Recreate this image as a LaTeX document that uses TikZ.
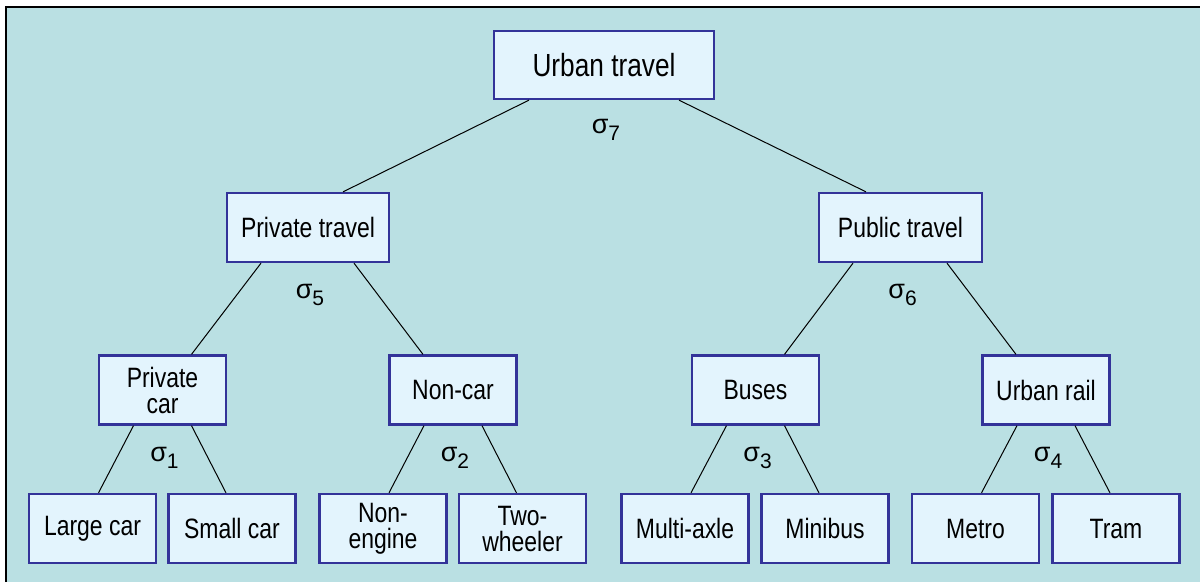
\documentclass[tikz,border=0pt]{standalone}
\usepackage{fontspec}
\setmainfont{Liberation Sans}[FakeStretch=0.82]
\newfontfamily\sigmafont{Liberation Sans}
\usetikzlibrary{positioning,calc}
\definecolor{panelteal}{RGB}{186,224,227}
\definecolor{boxfill}{RGB}{227,244,253}
\definecolor{boxblue}{RGB}{51,51,153}
\newcommand{\nestsigma}[1]{{\sigmafont\fontsize{27}{27}\selectfont σ\raisebox{-7pt}{\fontsize{21}{21}\selectfont #1}}}
\tikzset{
  modebox/.style={draw=boxblue,fill=boxfill,line width=2.3pt,inner sep=0pt,
    minimum width=127pt,minimum height=69pt,align=center,
    font=\fontsize{28}{26}\selectfont},
  branch/.style={line width=1pt,color=black},
  nestlabel/.style={anchor=base,inner sep=0pt},
}
\begin{document}
\begin{tikzpicture}[x=1pt,y=-1pt]
\useasboundingbox (0,0) rectangle (1200,582);
\fill[panelteal] (5,6) rectangle (1200,582);
\draw[line width=2pt] (6,582)--(6,7)--(1200,7);
\node[modebox,minimum width=220pt,minimum height=68pt,font=\fontsize{32}{30}\selectfont] (urban) at (604,65) {Urban travel};
\node[modebox,minimum width=162pt] (privtr) at (308,227.5) {Private travel};
\node[modebox,minimum width=163pt] (pubtr) at (900.5,227.5) {Public travel};
\foreach \n/\x/\t in {privcar/162.5/Private\\car, noncar/453/Non-car,
                      buses/755.5/Buses, rail/1046/Urban rail}
  \node[modebox] (\n) at (\x,390) {\t};
\foreach \n/\x/\t in {large/92.5/Large car, small/232/Small car,
                      noneng/383/Non-\\engine, twowh/522.5/Two-\\wheeler,
                      multi/685/Multi-axle, mini/825/Minibus,
                      metro/975.5/Metro, tram/1116/Tram}
  \node[modebox] (\n) at (\x,528.5) {\t};
\draw[branch] ([xshift=-75pt]urban.south)--([xshift=35pt]privtr.north);
\draw[branch] ([xshift=75pt]urban.south)--([xshift=-34.5pt]pubtr.north);
\draw[branch] ([xshift=-47pt]privtr.south)--([xshift=29pt]privcar.north);
\draw[branch] ([xshift=46pt]privtr.south)--([xshift=-30pt]noncar.north);
\draw[branch] ([xshift=-47.5pt]pubtr.south)--([xshift=29pt]buses.north);
\draw[branch] ([xshift=46.5pt]pubtr.south)--([xshift=-30pt]rail.north);
\foreach \p/\l/\r in {privcar/large/small, noncar/noneng/twowh,
                      buses/multi/mini, rail/metro/tram}{
  \draw[branch] ([xshift=-29pt]\p.south)--([xshift=6pt]\l.north);
  \draw[branch] ([xshift=29pt]\p.south)--([xshift=-6pt]\r.north);}
\foreach \p/\k/\d in {urban/7/33, privtr/5/35, pubtr/6/35, privcar/1/36,
                      noncar/2/36, buses/3/36, rail/4/36}
  \node[nestlabel] (sig\k) at ([xshift=2pt,yshift=-\d pt]\p.south) {\nestsigma{\k}};
\end{tikzpicture}
\end{document}
